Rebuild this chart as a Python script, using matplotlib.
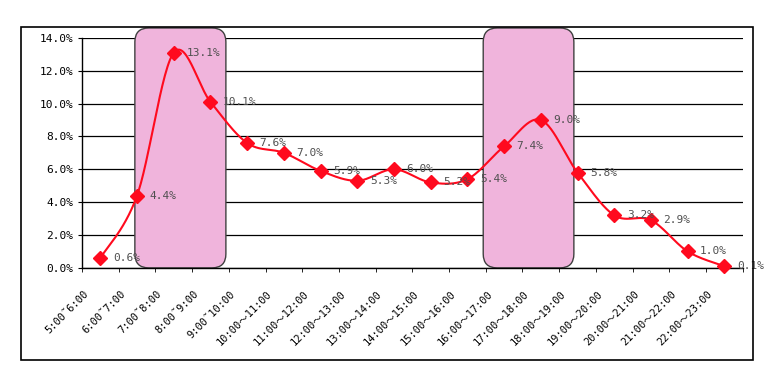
import matplotlib.pyplot as plt
import numpy as np
from matplotlib.patches import FancyBboxPatch, Rectangle
from matplotlib.transforms import ScaledTranslation

# time slots and share of trips (%)
slots = ['5:00˜6:00', '6:00˜7:00', '7:00˜8:00', '8:00˜9:00', '9:00˜10:00',
         '10:00～11:00', '11:00～12:00', '12:00～13:00', '13:00～14:00', '14:00～15:00',
         '15:00～16:00', '16:00～17:00', '17:00～18:00', '18:00～19:00', '19:00～20:00',
         '20:00～21:00', '21:00～22:00', '22:00～23:00']
share = [0.6, 4.4, 13.1, 10.1, 7.6, 7.0, 5.9, 5.3, 6.0, 5.2, 5.4, 7.4, 9.0, 5.8, 3.2, 2.9, 1.0, 0.1]
yticks = [0, 2, 4, 6, 8, 10, 12, 14]
# peak windows, in category units
peaks = [(0.94, 3.42), (10.43, 12.9)]

plt.rcParams['font.family'] = ['DejaVu Sans Mono', 'Noto Sans CJK SC']

fig = plt.figure(figsize=(7.81, 3.86), dpi=100)
ax = fig.add_axes([0.105, 0.306, 0.846, 0.596])

# outer chart frame
fig.patches.append(Rectangle((21 / 781, 1 - 360 / 386), 732 / 781, 333 / 386,
                             transform=fig.transFigure, fill=False, ec='black', lw=1.2))

x = np.arange(len(share))
y = np.array(share)

# smoothed line (Catmull-Rom through the points)
xs, ys = [], []
pts = np.column_stack([x, y])
ext = np.vstack([pts[0], pts, pts[-1]])
for i in range(1, len(ext) - 2):
    p0, p1, p2, p3 = ext[i - 1], ext[i], ext[i + 1], ext[i + 2]
    t = np.linspace(0, 1, 30)[:, None]
    seg = 0.5 * ((2 * p1) + (-p0 + p2) * t + (2 * p0 - 5 * p1 + 4 * p2 - p3) * t ** 2
                 + (-p0 + 3 * p1 - 3 * p2 + p3) * t ** 3)
    xs.extend(seg[:, 0]); ys.extend(seg[:, 1])

for a, b in peaks:
    box = FancyBboxPatch((a, 0), b - a, 14.6, boxstyle='round,pad=0,rounding_size=0.38',
                         mutation_aspect=36.7 / 16.4, fc='#F0B4DC', ec='#404040', lw=1,
                         clip_on=False, zorder=2)
    ax.add_patch(box)

ax.plot(xs, ys, color='#FF0A1E', lw=1.5, zorder=3, clip_on=False)
ax.plot(x, y, ls='none', marker='D', ms=7, color='#FF0A1E', zorder=4, clip_on=False)

for xi, yi in zip(x, y):
    ax.annotate(f'{yi:.1f}%', (xi, yi), xytext=(9, 0), textcoords='offset points',
                va='center', ha='left', fontsize=8, color='#505050', zorder=5)

ax.set_xlim(-0.5, len(share) - 0.5)
ax.set_ylim(0, 14)
ax.set_yticks(yticks)
ax.set_yticklabels([f'{v:.1f}%' for v in yticks], fontsize=8)
ax.set_xticks(np.arange(len(share) + 1) - 0.5, minor=True)
ax.set_xticks(x)
ax.set_xticklabels(slots, rotation=45, ha='right', rotation_mode='anchor', fontsize=7.5)
ax.tick_params(axis='x', which='major', length=0, pad=15)
ax.tick_params(axis='x', which='minor', length=3, direction='out')
ax.tick_params(axis='y', length=3, direction='out')
for lab in ax.get_xticklabels():
    lab.set_transform(lab.get_transform() + ScaledTranslation(-0.17, 0, fig.dpi_scale_trans))
ax.grid(axis='y', color='black', lw=0.9)
ax.set_axisbelow(True)
for s in ['top', 'right']:
    ax.spines[s].set_visible(False)
ax.spines['left'].set_linewidth(1)
ax.spines['bottom'].set_linewidth(1)

fig.savefig('out.png', dpi=100)
